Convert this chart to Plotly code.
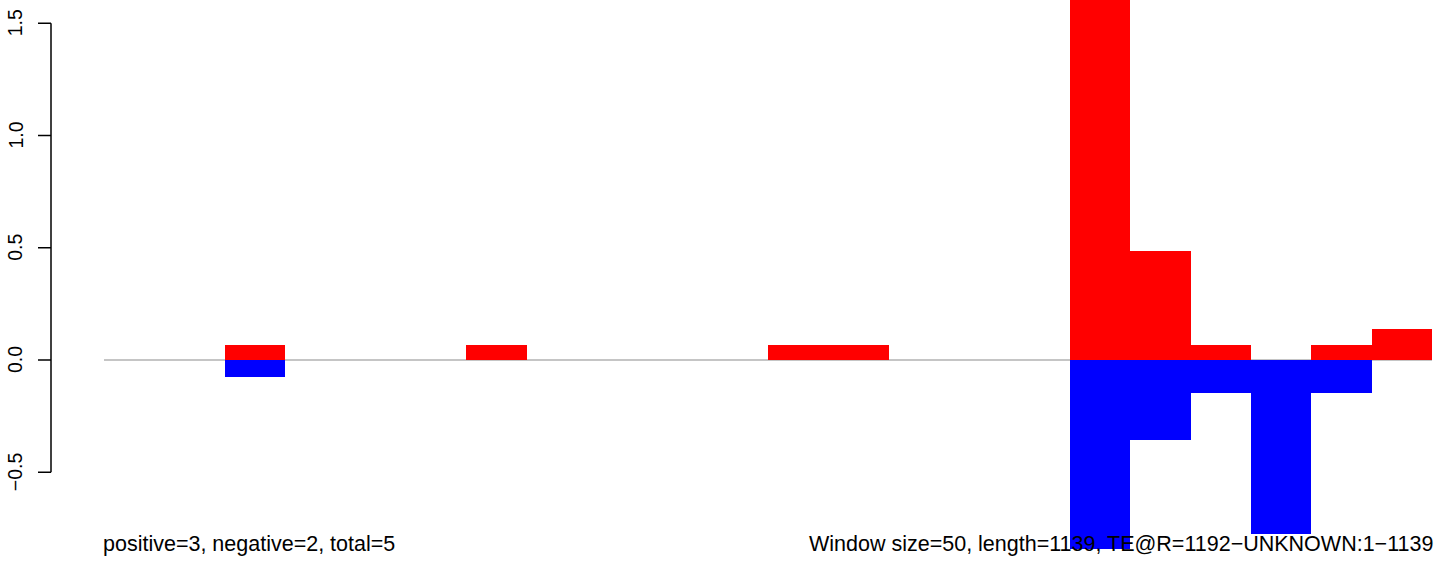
import plotly.graph_objects as go

# ---- data ----
window_size = 50
seq_length = 1139
window_starts = [i * window_size for i in range(22)]
positive_vals = [0, 0, 0.067, 0, 0, 0, 0.067, 0, 0, 0, 0, 0.067, 0.067, 0, 0, 0,
                 2.0, 0.486, 0.067, 0, 0.067, 0.14]
negative_vals = [0, 0, -0.074, 0, 0, 0, 0, 0, 0, 0, 0, 0, 0, 0, 0, 0,
                 -1.2, -0.356, -0.147, -0.775, -0.147, 0]
y_ticks = [-0.5, 0.0, 0.5, 1.0, 1.5]
y_tick_labels = ["\u22120.5", "0.0", "0.5", "1.0", "1.5"]
left_note = "positive=3, negative=2, total=5"
right_note = "Window size=50, length=1139, TE@R=1192\u2212UNKNOWN:1\u22121139"

# ---- layout geometry ----
W, H = 1444, 571
plot_bottom_px = 549          # bottom of plotting region (pixels from top)
zero_px = 360                 # pixel row of y=0
px_per_unit = 224.5           # vertical scale
left_px, right_px = 104, 1432 # pixel columns of first / last window edge
x0_bp = window_starts[0]
x1_bp = window_starts[-1] + window_size
bp_per_px = (x1_bp - x0_bp) / (right_px - left_px)
x_range = [x0_bp - left_px * bp_per_px, x0_bp + (W - left_px) * bp_per_px]
y_range = [-(plot_bottom_px - zero_px) / px_per_unit, zero_px / px_per_unit]

centers = [s + window_size / 2 for s in window_starts]

fig = go.Figure()
fig.add_trace(go.Bar(x=centers, y=positive_vals, width=window_size,
                     marker=dict(color="#FF0000", line=dict(width=0)),
                     showlegend=False, hoverinfo="skip"))
fig.add_trace(go.Bar(x=centers, y=negative_vals, width=window_size,
                     marker=dict(color="#0000FF", line=dict(width=0)),
                     showlegend=False, hoverinfo="skip"))

shapes = []
# zero baseline
shapes.append(dict(type="line", xref="x", yref="y", x0=x0_bp, x1=x1_bp, y0=0, y1=0,
                   line=dict(color="#8C8C8C", width=1.2), layer="below"))
# y axis line and ticks
axis_x = 51 / W
tick_x = 38 / W
shapes.append(dict(type="line", xref="paper", yref="y", x0=axis_x, x1=axis_x,
                   y0=y_ticks[0], y1=y_ticks[-1], line=dict(color="black", width=1.5)))
for t in y_ticks:
    shapes.append(dict(type="line", xref="paper", yref="y", x0=tick_x, x1=axis_x,
                       y0=t, y1=t, line=dict(color="black", width=1.5)))

annotations = []
for t, lab in zip(y_ticks, y_tick_labels):
    annotations.append(dict(xref="paper", yref="y", x=15 / W, y=t, text=lab,
                            textangle=-90, showarrow=False, xanchor="center",
                            yanchor="middle",
                            font=dict(family="Liberation Sans, Arial", size=19.5, color="black")))
note_y = (plot_bottom_px - 545) / plot_bottom_px
note_font = dict(family="Liberation Sans, Arial", size=21.5, color="black")
annotations.append(dict(xref="x", yref="paper", x=x0_bp, y=note_y, text=left_note,
                        showarrow=False, xanchor="left", yanchor="middle",
                        xshift=-3, yshift=1, font=note_font))
annotations.append(dict(xref="x", yref="paper", x=x1_bp, y=note_y, text=right_note,
                        showarrow=False, xanchor="right", yanchor="middle",
                        xshift=3, yshift=1, font=note_font))

fig.update_layout(
    width=W, height=H,
    margin=dict(l=0, r=0, t=0, b=H - plot_bottom_px, pad=0),
    paper_bgcolor="white", plot_bgcolor="white",
    barmode="overlay", bargap=0,
    xaxis=dict(range=x_range, visible=False, fixedrange=True),
    yaxis=dict(range=y_range, visible=False, fixedrange=True),
    shapes=shapes, annotations=annotations,
)

fig.write_html("out.html",
               config={"displayModeBar": False},
               post_script="document.body.style.margin='0';document.body.style.overflow='hidden';")
